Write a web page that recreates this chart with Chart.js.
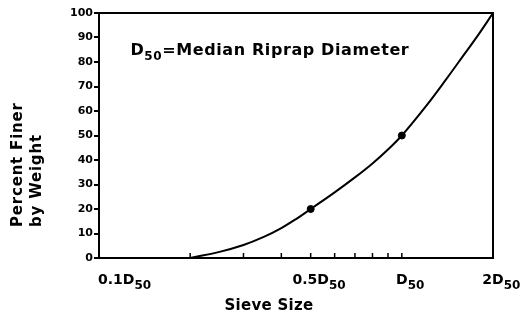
<!DOCTYPE html>
<html lang="en">
<head>
    <meta charset="UTF-8">
    <title>Riprap Gradation Curve</title>
    <script src="https://cdn.jsdelivr.net/npm/chart.js"></script>
    <style>
        body { margin: 0; background: #fff; }
    </style>
</head>
<body>
    <canvas id="gradation" width="520" height="322"></canvas>

    <script>
        // Sieve size as a fraction of D50, and percent finer by weight
        const sieveSizes = [0.2, 0.25, 0.3, 0.35, 0.4, 0.45, 0.5, 0.6, 0.7, 0.8, 0.9, 1.0, 1.2, 1.4, 1.6, 1.8, 2.0];
        const percentFiner = [0, 2.5, 5.3, 8.6, 12.2, 16.1, 20, 26.8, 32.9, 38.6, 44.3, 50, 61.9, 72.9, 82.8, 91.6, 100];

        // The two marked points on the curve
        const markerSizes = [0.5, 1.0];
        const markerFiner = [20, 50];

        // x axis labels (main text + subscript) and the small tick marks
        const xLabelValues = [0.1, 0.5, 1, 2];
        const xLabelText = ['0.1D', '0.5D', 'D', '2D'];
        const xLabelSub = '50';
        const xMinorTicks = [0.2, 0.3, 0.4, 0.5, 0.6, 0.7, 0.8, 0.9, 1];

        const FONT = "'DejaVu Sans'";

        // draw "main" followed by a subscript
        function drawSubText(ctx, main, sub, x, y, size, subSize, align) {
            ctx.font = 'bold ' + size + 'px ' + FONT;
            const w = ctx.measureText(main).width;
            let start = x;
            if (align === 'center') start = x - w / 2;
            ctx.textAlign = 'left';
            ctx.textBaseline = 'alphabetic';
            ctx.fillText(main, start, y);
            ctx.font = 'bold ' + subSize + 'px ' + FONT;
            ctx.fillText(sub, start + w, y + subSize * 0.45);
        }

        const extras = {
            id: 'extras',
            afterDraw(chart) {
                const ctx = chart.ctx;
                const xs = chart.scales.x;
                const ys = chart.scales.y;
                const area = chart.chartArea;
                ctx.save();
                ctx.strokeStyle = '#000';
                ctx.fillStyle = '#000';
                ctx.lineWidth = 2;

                // top and right frame lines
                ctx.beginPath();
                ctx.moveTo(area.left, area.top);
                ctx.lineTo(area.right, area.top);
                ctx.lineTo(area.right, area.bottom);
                ctx.stroke();

                // small inward ticks along the sieve size axis
                ctx.lineWidth = 1.5;
                xMinorTicks.forEach(v => {
                    const px = xs.getPixelForValue(v);
                    ctx.beginPath();
                    ctx.moveTo(px, area.bottom);
                    ctx.lineTo(px, area.bottom - 5);
                    ctx.stroke();
                });

                // x labels with subscripts
                xLabelValues.forEach((v, i) => {
                    const px = xs.getPixelForValue(v);
                    const align = i === 0 ? 'left' : 'center';
                    drawSubText(ctx, xLabelText[i], xLabelSub, i === 0 ? px - 1 : px, area.bottom + 26, 14, 12, align);
                });

                // annotation
                ctx.letterSpacing = '0.6px';
                const ax = xs.getPixelForValue(0.127);
                const ay = ys.getPixelForValue(83);
                ctx.font = 'bold 16px ' + FONT;
                ctx.textAlign = 'left';
                ctx.fillText('D', ax, ay);
                let cx = ax + ctx.measureText('D').width;
                ctx.font = 'bold 12px ' + FONT;
                ctx.fillText('50', cx, ay + 5);
                cx += ctx.measureText('50').width;
                ctx.font = 'bold 16px ' + FONT;
                ctx.fillText('=Median Riprap Diameter', cx, ay);

                // axis titles
                ctx.letterSpacing = '0.3px';
                ctx.font = 'bold 15px ' + FONT;
                ctx.textAlign = 'center';
                ctx.textBaseline = 'middle';
                ctx.fillText('Sieve Size', 269, 306);

                ctx.letterSpacing = '0.8px';
                ctx.translate(18, 227);
                ctx.rotate(-Math.PI / 2);
                ctx.textAlign = 'left';
                ctx.fillText('Percent Finer', 0, 0);
                ctx.fillText('by Weight', 0, 19);
                ctx.restore();
            }
        };

        const ctx = document.getElementById('gradation').getContext('2d');

        new Chart(ctx, {
            type: 'line',
            data: {
                datasets: [{
                    data: sieveSizes.map((s, i) => ({ x: s, y: percentFiner[i] })),
                    borderColor: '#000',
                    borderWidth: 2,
                    pointRadius: 0,
                    tension: 0.4,
                    fill: false
                }, {
                    type: 'scatter',
                    data: markerSizes.map((s, i) => ({ x: s, y: markerFiner[i] })),
                    backgroundColor: '#000',
                    borderColor: '#000',
                    pointRadius: 3.5
                }]
            },
            options: {
                responsive: false,
                animation: false,
                layout: { padding: { top: 13, right: 27, left: 0, bottom: 0 } },
                plugins: {
                    legend: { display: false },
                    tooltip: { enabled: false }
                },
                scales: {
                    x: {
                        type: 'logarithmic',
                        min: 0.1,
                        max: 2,
                        ticks: { display: false },
                        grid: { display: false },
                        border: { display: true, color: '#000', width: 2 },
                        afterFit(scale) { scale.height = 64; }
                    },
                    y: {
                        min: 0,
                        max: 100,
                        ticks: {
                            stepSize: 10,
                            color: '#000',
                            padding: 1,
                            font: { family: FONT, size: 11, weight: 'bold' }
                        },
                        grid: {
                            drawOnChartArea: false,
                            drawTicks: true,
                            tickLength: 5,
                            color: '#000',
                            lineWidth: 2
                        },
                        border: { display: true, color: '#000', width: 2 },
                        afterFit(scale) { scale.width = 99; }
                    }
                }
            },
            plugins: [extras]
        });
    </script>
</body>
</html>
